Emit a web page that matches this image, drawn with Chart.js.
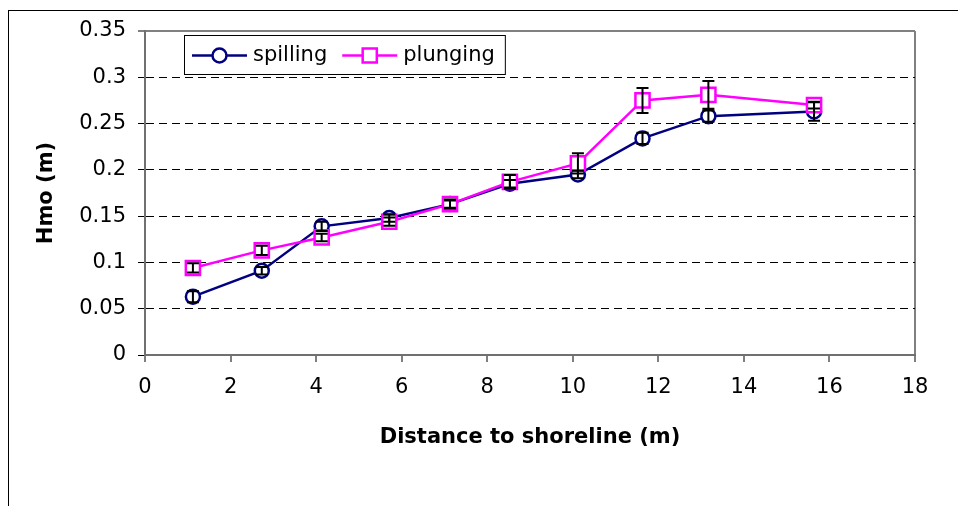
<!doctype html>
<html lang="en">
<head>
<meta charset="utf-8">
<title>Hmo vs distance to shoreline</title>
<script src="https://cdn.jsdelivr.net/npm/chart.js"></script>
<style>
  html, body { margin: 0; padding: 0; background: #fff; overflow: hidden; }
  .frame { position: absolute; left: 8px; top: 10px; width: 1000px; height: 600px; border: 1px solid #000; }
  .wrap { position: absolute; left: 0; top: 0; width: 958px; height: 506px; }
</style>
</head>
<body>
<div class="frame"></div>
<div class="wrap"><canvas id="hmoChart" width="958" height="506"></canvas></div>
<script>
// values
const distance = [1.12, 2.73, 4.13, 5.71, 7.13, 8.53, 10.12, 11.63, 13.17, 15.64];
const spilling = [0.063, 0.091, 0.139, 0.148, 0.163, 0.185, 0.195, 0.234, 0.258, 0.263];
const spillingErr = [0.006, 0.004, 0.005, 0.004, 0.004, 0.004, 0.004, 0.006, 0.006, 0.010];
const plunging = [0.094, 0.113, 0.127, 0.144, 0.163, 0.187, 0.207, 0.275, 0.281, 0.270];
const plungingErr = [0.005, 0.005, 0.004, 0.0045, 0.005, 0.0075, 0.011, 0.0135, 0.015, 0.0036];
const xTicks = [0, 2, 4, 6, 8, 10, 12, 14, 16, 18];
const yTicks = [0, 0.05, 0.1, 0.15, 0.2, 0.25, 0.3, 0.35];

const FONT = 'DejaVu Sans';

// error bars, drawn through the y scale
const errorBars = {
    id: 'errorBars',
    afterDatasetsDraw(chart) {
        const ctx = chart.ctx;
        const y = chart.scales.y;
        ctx.save();
        ctx.strokeStyle = '#000';
        ctx.lineWidth = 2;
        chart.data.datasets.forEach((ds, i) => {
            const meta = chart.getDatasetMeta(i);
            meta.data.forEach((pt, j) => {
                const v = ds.data[j].y, e = ds.errors[j];
                const top = y.getPixelForValue(v + e);
                const bot = y.getPixelForValue(v - e);
                ctx.beginPath();
                ctx.moveTo(pt.x, top); ctx.lineTo(pt.x, bot);
                ctx.moveTo(pt.x - 6, top); ctx.lineTo(pt.x + 6, top);
                ctx.moveTo(pt.x - 6, bot); ctx.lineTo(pt.x + 6, bot);
                ctx.stroke();
            });
        });
        ctx.restore();
    }
};

// boxed legend inside the plot area, like the original
const boxLegend = {
    id: 'boxLegend',
    afterDraw(chart) {
        const ctx = chart.ctx;
        const area = chart.chartArea;
        const left = area.left + 39, top = area.top + 4, h = 39;
        const cy = top + h / 2 + 1;
        ctx.save();
        ctx.font = '21px "' + FONT + '"';
        let x = left + 8;
        const items = [];
        chart.data.datasets.forEach(ds => {
            const w = ctx.measureText(ds.label).width;
            items.push({ ds, x });
            x += 55 + 6 + w + 15;
        });
        const right = x - 15 + 10;
        ctx.fillStyle = '#fff';
        ctx.fillRect(left, top, right - left, h);
        ctx.strokeStyle = '#000';
        ctx.lineWidth = 1;
        ctx.strokeRect(left + 0.5, top + 0.5, right - left, h);
        items.forEach(({ ds, x }) => {
            ctx.strokeStyle = ds.borderColor;
            ctx.lineWidth = ds.borderWidth;
            ctx.beginPath();
            ctx.moveTo(x, cy); ctx.lineTo(x + 55, cy);
            ctx.stroke();
            const mx = x + 27.5;
            ctx.fillStyle = '#fff';
            ctx.lineWidth = ds.pointBorderWidth;
            ctx.beginPath();
            if (ds.pointStyle === 'rect') {
                const s = ds.pointRadius * Math.SQRT1_2;
                ctx.rect(mx - s, cy - s, 2 * s, 2 * s);
            } else {
                ctx.arc(mx, cy, ds.pointRadius, 0, Math.PI * 2);
            }
            ctx.fill(); ctx.stroke();
            ctx.fillStyle = '#000';
            ctx.textBaseline = 'middle';
            ctx.textAlign = 'left';
            ctx.fillText(ds.label, x + 61, cy);
        });
        ctx.restore();
    }
};

new Chart(document.getElementById('hmoChart'), {
    type: 'line',
    data: {
        datasets: [
            {
                label: 'spilling',
                data: distance.map((d, i) => ({ x: d, y: spilling[i] })),
                errors: spillingErr,
                borderColor: '#000080',
                borderWidth: 2.5,
                pointStyle: 'circle',
                pointRadius: 7,
                pointBorderWidth: 2.5,
                pointBackgroundColor: '#fff',
                pointBorderColor: '#000080',
                order: 1
            },
            {
                label: 'plunging',
                data: distance.map((d, i) => ({ x: d, y: plunging[i] })),
                errors: plungingErr,
                borderColor: '#FF00FF',
                borderWidth: 2.5,
                pointStyle: 'rect',
                pointRadius: 10,
                pointBorderWidth: 2.5,
                pointBackgroundColor: '#fff',
                pointBorderColor: '#FF00FF',
                order: 0
            }
        ]
    },
    options: {
        responsive: false,
        animation: false,
        layout: { padding: { top: 31, right: 43, left: 0, bottom: 0 } },
        plugins: { legend: { display: false }, tooltip: { enabled: false } },
        scales: {
            x: {
                type: 'linear',
                min: 0, max: 18,
                afterBuildTicks: s => { s.ticks = xTicks.map(v => ({ value: v })); },
                afterFit: s => { s.height = 151; },
                ticks: { font: { family: FONT, size: 21 }, color: '#000', padding: 13, maxRotation: 0 },
                grid: {
                    color: c => c.tick && c.tick.value === 18 ? '#808080' : 'transparent',
                    lineWidth: 2,
                    tickColor: '#000', tickWidth: 1, tickLength: 7
                },
                border: { color: '#707070', width: 2 },
                title: {
                    display: true, text: 'Distance to shoreline (m)', color: '#000',
                    font: { family: FONT, size: 21, weight: 'bold' },
                    padding: { top: 0, bottom: 56 }
                }
            },
            y: {
                type: 'linear',
                min: 0, max: 0.35,
                afterBuildTicks: s => { s.ticks = yTicks.map(v => ({ value: v })); },
                afterFit: s => { s.width = 145; },
                ticks: {
                    font: { family: FONT, size: 21 }, color: '#000', padding: 12,
                    callback: v => String(v)
                },
                grid: {
                    color: c => {
                        if (!c.tick || c.tick.value === 0) return 'transparent';
                        return c.tick.value === 0.35 ? '#808080' : '#000';
                    },
                    lineWidth: c => c.tick && c.tick.value === 0.35 ? 2 : 1,
                    tickColor: '#000', tickWidth: 1, tickLength: 7
                },
                border: {
                    color: '#707070', width: 2,
                    dash: c => c.tick && c.tick.value === 0.35 ? [] : [8, 5]
                },
                title: {
                    display: true, text: 'Hmo (m)', color: '#000',
                    font: { family: FONT, size: 21, weight: 'bold' },
                    padding: { top: 34, bottom: 0 }
                }
            }
        }
    },
    plugins: [errorBars, boxLegend]
});
</script>
</body>
</html>
